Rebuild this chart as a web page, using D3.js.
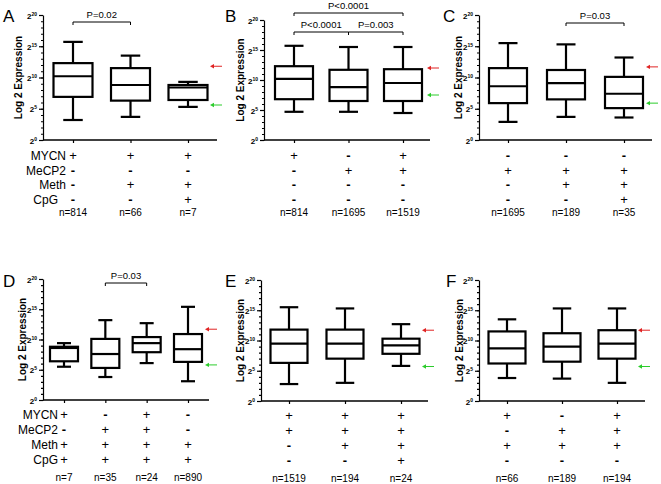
<!DOCTYPE html>
<html><head><meta charset="utf-8">
<script src="https://cdn.jsdelivr.net/npm/d3@7"></script>
<style>body{margin:0;background:#fff}</style>
</head><body>
<svg id="c" width="661" height="484" xmlns="http://www.w3.org/2000/svg"></svg>
<script>
// ---------- data ----------
const rowLabels = ['MYCN', 'MeCP2', 'Meth', 'CpG'];
const majorTicks = [0, 5, 10, 15, 20];
// box stats per group: [lower whisker, Q1, median, Q3, upper whisker] (log2 expression)
const statsA = [[3.2, 6.9, 10.2, 12.3, 15.7], [3.7, 6.3, 8.8, 11.5, 13.5], [5.3, 6.4, 8.4, 8.8, 9.3]];
const statsB = [[4.7, 6.8, 10.2, 12.3, 15.7], [4.7, 6.5, 8.8, 11.7, 15.5], [4.5, 6.5, 9.5, 11.8, 15.5]];
const statsC = [[2.9, 5.9, 8.6, 11.5, 15.5], [3.7, 6.5, 9.1, 11.2, 15.3], [3.6, 5.1, 7.4, 10.1, 13.2]];
const statsD = [[5.5, 6.4, 8.6, 8.8, 9.4], [3.8, 5.3, 7.6, 10.1, 13.2], [6.1, 7.9, 9.4, 10.4, 12.7], [3.1, 6.3, 8.4, 10.9, 15.4]];
const statsE = [[2.8, 6.3, 9.5, 11.8, 15.5], [3.0, 7.0, 9.5, 11.8, 15.3], [5.8, 7.8, 9.2, 10.3, 12.7]];
const statsF = [[3.8, 6.2, 8.7, 11.5, 13.5], [3.7, 6.5, 9.0, 11.2, 15.3], [3.0, 7.0, 9.5, 11.7, 15.3]];
// condition signs per group: MYCN, MeCP2, Meth, CpG
const signsA = [['+', '-', '-', '-'], ['+', '-', '+', '-'], ['+', '-', '+', '+']];
const signsB = [['+', '-', '-', '-'], ['-', '+', '-', '-'], ['+', '+', '-', '-']];
const signsC = [['-', '+', '-', '-'], ['-', '+', '+', '-'], ['-', '+', '+', '+']];
const signsD = [['+', '-', '+', '+'], ['-', '+', '+', '+'], ['+', '+', '+', '+'], ['-', '-', '+', '+']];
const signsE = [['+', '+', '-', '-'], ['+', '+', '+', '-'], ['+', '+', '+', '+']];
const signsF = [['+', '-', '+', '-'], ['-', '+', '+', '-'], ['+', '+', '+', '-']];
const countsA = ['n=814', 'n=66', 'n=7'];
const countsB = ['n=814', 'n=1695', 'n=1519'];
const countsC = ['n=1695', 'n=189', 'n=35'];
const countsD = ['n=7', 'n=35', 'n=24', 'n=890'];
const countsE = ['n=1519', 'n=194', 'n=24'];
const countsF = ['n=66', 'n=189', 'n=194'];
// significance brackets: [from group, to group, label]
const pA = [[0, 1, 'P=0.02']];
const pB = [[0, 2, 'P<0.0001'], [0, 1, 'P<0.0001'], [1, 2, 'P=0.003']];
const pC = [[1, 2, 'P=0.03']];
const pD = [[1, 2, 'P=0.03']];
// reference arrows (log2 level): [red, green]
const arrowsA = [11.8, 5.6];
const arrowsB = [12.0, 7.5];
const arrowsC = [11.7, 5.9];
const arrowsD = [11.7, 5.8];
const arrowsE = [11.7, 5.7];
const arrowsF = [11.7, 5.7];

// ---------- layout ----------
const panels = [
  {id: 'A', stats: statsA, signs: signsA, n: countsA, p: pA, arrows: arrowsA, showLabels: true,
   x0: 43, x1: 217, yt: 15, yb: 140, c0: 73, c1: 188, bw: 39, lx: 3, ly: 22, tx: 18.5,
   rowY: [15, 30, 44, 59], nY: 72, pY: [7], arrowX: 210, labelX: [66, 66, 66, 58]},
  {id: 'B', stats: statsB, signs: signsB, n: countsB, p: pB, arrows: arrowsB, showLabels: false,
   x0: 264, x1: 430, yt: 20, yb: 140, c0: 294, c1: 403, bw: 38, lx: 225, ly: 22, tx: 240,
   rowY: [15, 30, 44, 59], nY: 72, pY: [-7, 12, 12], arrowX: 427},
  {id: 'C', stats: statsC, signs: signsC, n: countsC, p: pC, arrows: arrowsC, showLabels: false,
   x0: 479, x1: 652, yt: 15, yb: 140, c0: 508, c1: 624, bw: 38, lx: 443, ly: 22, tx: 458,
   rowY: [15, 30, 44, 59], nY: 72, pY: [8], arrowX: 646},
  {id: 'D', stats: statsD, signs: signsD, n: countsD, p: pD, arrows: arrowsD, showLabels: true,
   x0: 43, x1: 209, yt: 279, yb: 400, c0: 64, c1: 188, bw: 28, lx: 3, ly: 287, tx: 22,
   rowY: [14, 29, 44, 59], nY: 77, pY: [4], arrowX: 205, labelX: [58, 58, 58, 58]},
  {id: 'E', stats: statsE, signs: signsE, n: countsE, p: [], arrows: arrowsE, showLabels: false,
   x0: 261, x1: 428, yt: 280, yb: 401, c0: 289, c1: 401, bw: 37, lx: 225, ly: 287, tx: 240,
   rowY: [14, 29, 44, 59], nY: 77, pY: [], arrowX: 422},
  {id: 'F', stats: statsF, signs: signsF, n: countsF, p: [], arrows: arrowsF, showLabels: false,
   x0: 479, x1: 645, yt: 280, yb: 401, c0: 507, c1: 617, bw: 37, lx: 446, ly: 287, tx: 459,
   rowY: [14, 29, 44, 59], nY: 77, pY: [], arrowX: 638}
];

const svg = d3.select('#c');
const FONT = 'Liberation Sans, Arial, Helvetica, sans-serif';

function drawPanel(p) {
  const g = svg.append('g').attr('font-family', FONT);
  const y = d3.scaleLinear().domain([0, 20]).range([p.yb, p.yt]);
  const x = d3.scalePoint().domain(d3.range(p.stats.length)).range([p.c0, p.c1]);

  // panel letter
  g.append('text').attr('x', p.lx).attr('y', p.ly).attr('font-size', 17).text(p.id);

  // y title
  g.append('text').attr('transform', `translate(${p.tx + 3.5},${(p.yt + p.yb) / 2}) rotate(-90)`)
    .attr('text-anchor', 'middle').attr('font-size', 10).attr('font-weight', 'bold')
    .text('Log 2 Expression');

  // y axis minor
  g.append('g').attr('transform', `translate(${p.x0},0)`)
    .call(d3.axisLeft(y).tickValues(d3.range(0, 21, 1)).tickSize(2).tickSizeOuter(0).tickFormat(''))
    .call(a => a.selectAll('line,path').attr('stroke', '#000').attr('stroke-width', 1.2));
  // y axis major
  const ya = g.append('g').attr('transform', `translate(${p.x0},0)`)
    .call(d3.axisLeft(y).tickValues(majorTicks).tickSize(4).tickSizeOuter(0).tickPadding(2))
    .call(a => a.select('.domain').remove())
    .call(a => a.selectAll('line').attr('stroke', '#000').attr('stroke-width', 1.2));
  ya.selectAll('text').attr('font-family', FONT).attr('font-weight', 'bold').attr('font-size', 8)
    .attr('dy', '0.4em').attr('fill', '#000')
    .each(function (d) {
      const t = d3.select(this);
      t.text('2');
      t.append('tspan').attr('font-size', 5).attr('dy', '-0.6em').text(d);
    });

  // x axis line + ticks
  g.append('line').attr('x1', p.x0).attr('x2', p.x1).attr('y1', p.yb).attr('y2', p.yb)
    .attr('stroke', '#000').attr('stroke-width', 1.5);
  g.append('g').attr('transform', `translate(0,${p.yb})`)
    .call(d3.axisBottom(x).tickSize(3).tickFormat(''))
    .call(a => a.select('.domain').remove())
    .call(a => a.selectAll('line').attr('stroke', '#000').attr('stroke-width', 1.2));

  // boxes
  const bw = p.bw;
  const box = g.selectAll('.box').data(p.stats).join('g').attr('class', 'box')
    .attr('fill', 'none').attr('stroke', '#000').attr('stroke-width', 2.2);
  box.append('line').attr('x1', (d, i) => x(i)).attr('x2', (d, i) => x(i))
    .attr('y1', d => y(d[3])).attr('y2', d => y(d[4]));
  box.append('line').attr('x1', (d, i) => x(i)).attr('x2', (d, i) => x(i))
    .attr('y1', d => y(d[1])).attr('y2', d => y(d[0]));
  box.append('line').attr('x1', (d, i) => x(i) - bw / 4).attr('x2', (d, i) => x(i) + bw / 4)
    .attr('y1', d => y(d[4])).attr('y2', d => y(d[4]));
  box.append('line').attr('x1', (d, i) => x(i) - bw / 4).attr('x2', (d, i) => x(i) + bw / 4)
    .attr('y1', d => y(d[0])).attr('y2', d => y(d[0]));
  box.append('rect').attr('x', (d, i) => x(i) - bw / 2).attr('width', bw)
    .attr('y', d => y(d[3])).attr('height', d => y(d[1]) - y(d[3])).attr('fill', '#fff');
  box.append('line').attr('x1', (d, i) => x(i) - bw / 2).attr('x2', (d, i) => x(i) + bw / 2)
    .attr('y1', d => y(d[2])).attr('y2', d => y(d[2]));

  // significance brackets
  p.p.forEach((b, k) => {
    const by = p.yt + p.pY[k];
    const xa = x(b[0]), xb = x(b[1]);
    g.append('path').attr('d', `M${xa},${by + 3}V${by}H${xb}V${by + 3}`)
      .attr('fill', 'none').attr('stroke', '#000').attr('stroke-width', 1);
    g.append('text').attr('x', (xa + xb) / 2).attr('y', by - 4).attr('text-anchor', 'middle')
      .attr('font-size', 9.5).text(b[2]);
  });

  // arrows
  const cols = ['#e02424', '#2ccc2c'];
  p.arrows.forEach((v, k) => {
    const ay = y(v);
    g.append('line').attr('x1', p.arrowX + 2).attr('x2', p.arrowX + 12).attr('y1', ay).attr('y2', ay)
      .attr('stroke', cols[k]).attr('stroke-width', 1);
    g.append('path').attr('d', `M${p.arrowX},${ay}L${p.arrowX + 4},${ay - 2.2}L${p.arrowX + 4},${ay + 2.2}Z`)
      .attr('fill', cols[k]);
  });

  // condition rows
  p.signs.forEach((s, i) => {
    s.forEach((sym, r) => {
      g.append('text').attr('x', x(i)).attr('y', p.yb + p.rowY[r] + 4.5).attr('text-anchor', 'middle')
        .attr('font-size', 13).attr('font-weight', sym === '-' ? 'bold' : 'normal')
        .text(sym === '-' ? '-' : '+');
    });
    g.append('text').attr('x', x(i)).attr('y', p.yb + p.nY + 3.5).attr('text-anchor', 'middle')
      .attr('font-size', 10).text(p.n[i]);
  });
  if (p.showLabels) {
    rowLabels.forEach((lab, r) => {
      g.append('text').attr('x', p.labelX[r]).attr('y', p.yb + p.rowY[r] + 4.5).attr('text-anchor', 'end')
        .attr('font-size', 12).text(lab);
    });
  }
}
panels.forEach(drawPanel);
</script>
</body></html>
